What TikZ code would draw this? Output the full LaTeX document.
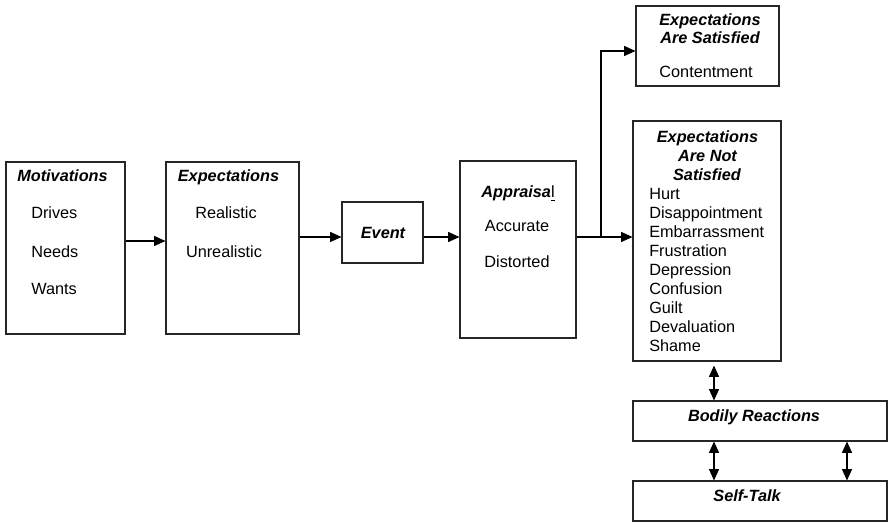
\documentclass[tikz,border=0pt]{standalone}
\usepackage{fontspec}
\setmainfont{Liberation Sans}
\usetikzlibrary{arrows.meta}
\begin{document}
\begin{tikzpicture}[x=0.75pt, y=-0.75pt,
  every node/.style={font=\fontsize{12.2}{14}\selectfont, inner sep=0pt},
  box/.style 2 args={draw=black!85, line width=0.8pt, minimum width=#1*0.75pt, minimum height=#2*0.75pt},
  txt/.style={anchor=base},
  lefttxt/.style={anchor=base west},
  hd/.style={font=\fontsize{12.2}{14}\selectfont\bfseries\itshape},
  arr/.style={line width=0.8pt, -{Triangle[length=8.5pt,width=7.5pt]}},
  darr/.style={line width=0.8pt, {Triangle[length=8.5pt,width=7.5pt]}-{Triangle[length=8.5pt,width=7.5pt]}}
]
\useasboundingbox (0,0) rectangle (891,523);

% boxes
\node[box={119}{172}] (mot) at (65.5,248) {};
\node[box={133}{172}] (exp) at (232.5,248) {};
\node[box={81}{61}] (event) at (382.5,232.5) {};
\node[box={116}{177}] (appr) at (518,249.5) {};
\node[box={143}{80}] (sat) at (707.5,46) {};
\node[box={148}{240}] (notsat) at (707,241) {};
\node[box={254}{40}] (body) at (760,421) {};
\node[box={254}{40}] (self) at (760,501) {};

% Motivations
\node[txt,hd] (motT) at (62.5,182) {Motivations};
\node[lefttxt] (motA) at (31,219) {Drives};
\node[lefttxt] (motB) at (31,258) {Needs};
\node[lefttxt] (motC) at (31,295) {Wants};

% Expectations
\node[txt,hd] (expT) at (228.5,182) {Expectations};
\node[txt] (expA) at (226,219) {Realistic};
\node[txt] (expB) at (224,258) {Unrealistic};

% Event
\node[txt,hd] (eventT) at (383,239) {Event};

% Appraisal
\node[txt] (apprT) at (518,198) {\textbf{\textit{Appraisa}}\underline{l}};
\node[txt] (apprA) at (517,232) {Accurate};
\node[txt] (apprB) at (517,268) {Distorted};

% Expectations are satisfied
\node[txt,hd] (satT1) at (710,26) {Expectations};
\node[txt,hd] (satT2) at (710,44) {Are Satisfied};
\node[txt] (satA) at (706,78) {Contentment};

% Expectations are not satisfied
\node[txt,hd] (nsT1) at (707.5,143) {Expectations};
\node[txt,hd] (nsT2) at (707.5,162) {Are Not};
\node[txt,hd] (nsT3) at (707,181) {Satisfied};
\node[lefttxt] (ns1) at (649,200) {Hurt};
\node[lefttxt] (ns2) at (649,219) {Disappointment};
\node[lefttxt] (ns3) at (649,238) {Embarrassment};
\node[lefttxt] (ns4) at (649,257) {Frustration};
\node[lefttxt] (ns5) at (649,276) {Depression};
\node[lefttxt] (ns6) at (649,295) {Confusion};
\node[lefttxt] (ns7) at (649,314) {Guilt};
\node[lefttxt] (ns8) at (649,333) {Devaluation};
\node[lefttxt] (ns9) at (649,352) {Shame};

% Bodily reactions and self-talk
\node[txt,hd] (bodyT) at (754,421) {Bodily Reactions};
\node[txt,hd] (selfT) at (747,501) {Self-Talk};

% connectors
\coordinate (split) at (601,237);
\draw[arr] (mot.east |- 0,241) -- (exp.west |- 0,241);
\draw[arr] (exp.east |- 0,237) -- (event.west |- 0,237);
\draw[arr] (event.east |- 0,237) -- (appr.west |- 0,237);
\draw[arr] (appr.east |- 0,237) -- (notsat.west |- 0,237);
\draw[arr] (split) |- (sat.west |- 0,51);
\draw[darr, shorten <=3pt] (notsat.south -| 714,0) -- (body.north -| 714,0);
\draw[darr] (body.south -| 714,0) -- (self.north -| 714,0);
\draw[darr] (body.south -| 847,0) -- (self.north -| 847,0);
\end{tikzpicture}
\end{document}
